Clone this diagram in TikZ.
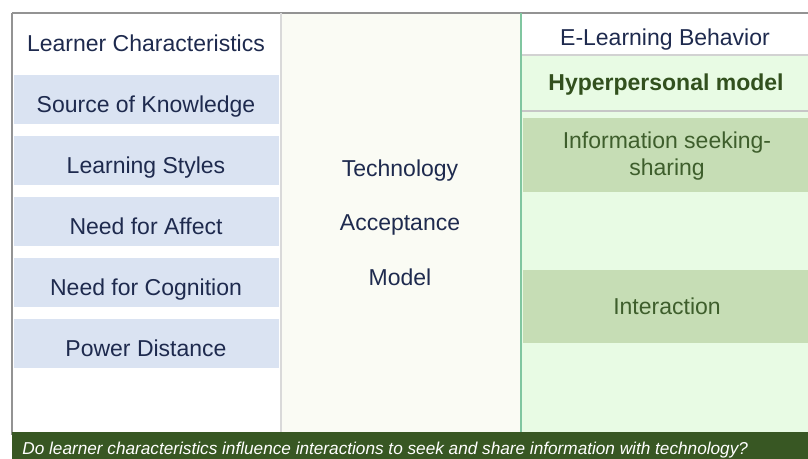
\documentclass[tikz,border=0pt]{standalone}
\usepackage{fontspec}
\setmainfont{Liberation Sans}
\definecolor{txtnavy}{RGB}{30,42,78}
\definecolor{txtgreen}{RGB}{62,94,44}
\definecolor{hypgreen}{RGB}{50,80,30}
\definecolor{lcblue}{RGB}{218,227,242}
\definecolor{midcream}{RGB}{250,251,244}
\definecolor{rcgreen}{RGB}{232,251,228}
\definecolor{boxgreen}{RGB}{198,221,181}
\definecolor{barGreen}{RGB}{56,87,35}
\definecolor{sepgreen}{RGB}{128,198,160}
\tikzset{
  lbl/.style={anchor=base,text=txtnavy,font=\fontsize{11.5}{13.5}\selectfont,inner sep=0pt},
  rlbl/.style={lbl,text=txtgreen},
}
\begin{document}
\begin{tikzpicture}[x=0.5pt,y=-0.5pt]
	\useasboundingbox (0,0) rectangle (808,459) ;
	%Fonds
	\fill [white]		(0,0)		rectangle (808,459)	;
	\fill [midcream]	(281,13)	rectangle (521,432)	;
	\fill [rcgreen]		(521,55)	rectangle (808,432)	;
	%Cases gauche
	\foreach \y/\t/\n in {75/Source of Knowledge/src,136/Learning Styles/styl,197/Need for Affect/aff,258/Need for Cognition/cogn,319/Power Distance/pdist}
	{
		\fill [lcblue] (14,\y) rectangle (279,\y+49) ;
		\path (146,\y+38) node [lbl] (\n) {\t} ;
	}
	%Cases droite
	\fill [boxgreen]	(523,118)	rectangle (808,192)	;
	\fill [boxgreen]	(523,270)	rectangle (808,343)	;
	%Traits
	\draw [gray!85,line width=1pt]		(12,13)		-- (808,13)		;
	\draw [gray!85,line width=1pt]		(12,13)		-- (12,435)		;
	\draw [gray!30,line width=1pt]		(281,13)	-- (281,432)	;
	\draw [gray!35,line width=1pt]		(522,55)	-- (808,55)		;
	\draw [gray!45,line width=1pt]		(522,111)	-- (808,111)	;
	\draw [sepgreen,line width=1.2pt]	(521,13)	-- (521,432)	;
	%Titres
	\path (146,52)	node [lbl] (lchar) {Learner Characteristics} ;
	\path (665,46)	node [lbl] (elb) {E-Learning Behavior} ;
	\path (666,91)	node [lbl,text=hypgreen,font=\fontsize{11.5}{13.5}\selectfont\bfseries] (hyper) {Hyperpersonal model} ;
	%Milieu
	\path (400,177)	node [lbl] (tech) {Technology} ;
	\path (400,231)	node [lbl] (accep) {Acceptance} ;
	\path (400,286)	node [lbl] (model) {Model} ;
	%Droite
	\path (667,149)	node [rlbl] (info) {Information seeking-} ;
	\path (667,176)	node [rlbl] (share) {sharing} ;
	\path (667,315)	node [rlbl] (inter) {Interaction} ;
	%Bandeau
	\fill [barGreen]	(12,432)	rectangle (808,459)	;
	\path (22,454)	node [anchor=base west,inner sep=0pt,text=white,font=\fontsize{8.6}{10}\selectfont\itshape] (quest) {Do learner characteristics influence interactions to seek and share information with technology?} ;
\end{tikzpicture}
\end{document}
